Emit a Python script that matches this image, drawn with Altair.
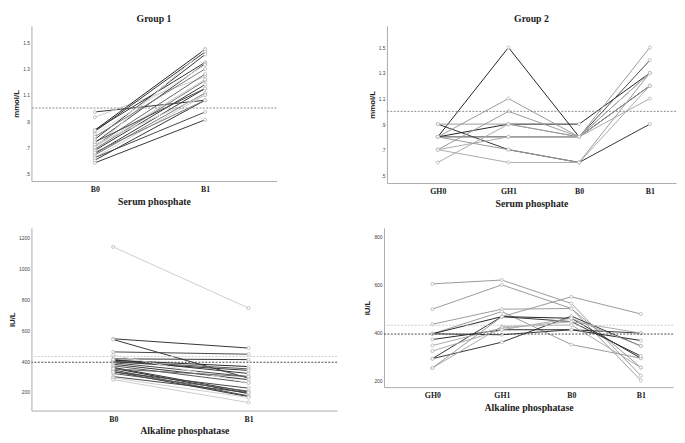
import altair as alt
import pandas as pd

# ---------------- data ----------------
# Group 1 - Serum phosphate (mmol/L)
g1p_times = ["B0", "B1"]
g1p_b0 = [0.97, 0.93, 0.83, 0.82, 0.83, 0.76, 0.735, 0.71, 0.70, 0.685, 0.675, 0.65,
          0.64, 0.62, 0.60, 0.58, 0.62, 0.72, 0.70, 0.66, 0.74, 0.80, 0.78]
g1p_b1 = [1.06, 1.24, 1.45, 1.43, 1.35, 1.41, 1.34, 1.26, 1.45, 1.21, 1.18, 1.15,
          1.115, 1.10, 1.06, 0.91, 0.97, 1.10, 1.22, 1.06, 1.15, 1.33, 1.30]
g1p_shade = ["#333", "#ccc", "#222", "#333", "#333", "#333", "#444", "#666", "#ccc", "#777", "#333", "#333",
             "#777", "#ccc", "#333", "#333", "#444", "#ccc", "#ccc", "#777", "#444", "#ddd", "#777"]

# Group 2 - Serum phosphate (mmol/L)
g2p_times = ["GH0", "GH1", "B0", "B1"]
g2p_gh0 = [0.8, 0.9, 0.8, 0.8, 0.8, 0.7, 0.6, 0.7, 0.9, 0.7, 0.8]
g2p_gh1 = [1.5, 0.7, 0.9, 0.8, 1.1, 1.0, 0.9, 0.6, 0.9, 0.8, 0.7]
g2p_b0 = [0.8, 0.6, 0.9, 0.8, 0.8, 0.8, 0.8, 0.6, 0.8, 0.8, 0.6]
g2p_b1 = [1.2, 0.9, 1.3, 1.4, 1.5, 1.3, 1.1, 1.2, 1.2, 1.3, 1.3]
g2p_shade = ["#222", "#333", "#222", "#444", "#999", "#999", "#aaa", "#aaa", "#999", "#aaa", "#999"]

# Group 1 - Alkaline phosphatase (IU/L)
g1a_times = ["B0", "B1"]
g1a_b0 = [1140, 545, 540, 460, 415, 406, 400, 396, 390, 380, 370, 360, 354, 343, 333,
          320, 300, 291, 280, 410, 440, 350, 330]
g1a_b1 = [744, 485, 290, 445, 410, 365, 350, 340, 300, 280, 260, 200, 190, 175, 170,
          206, 196, 165, 132, 320, 260, 300, 225]
g1a_shade = ["#ccc", "#333", "#333", "#444", "#333", "#222", "#555", "#333", "#444", "#333", "#555", "#333",
             "#222", "#444", "#333", "#555", "#444", "#ccc", "#ccc", "#333", "#ddd", "#666", "#444"]

# Group 2 - Alkaline phosphatase (IU/L)
g2a_times = ["GH0", "GH1", "B0", "B1"]
g2a_gh0 = [603, 497, 434, 394, 394, 290, 290, 370, 394, 251, 345, 322, 251]
g2a_gh1 = [619, 599, 497, 487, 466, 466, 359, 411, 390, 425, 418, 411, 466]
g2a_b0 = [521, 500, 500, 349, 459, 445, 468, 411, 411, 431, 445, 459, 549]
g2a_b1 = [219, 199, 253, 292, 292, 301, 343, 366, 397, 253, 397, 343, 477]
g2a_shade = ["#999", "#999", "#999", "#999", "#222", "#333", "#333", "#222", "#333", "#aaa", "#aaa", "#aaa", "#999"]

# reference lines
g1p_refs = [1.0]
g2p_refs = [1.0]
alp_refs = [430, 393]
alp_ref_colors = ["#ccc", "#444"]


def long_df(times, series, shades):
    rows = []
    for s in range(len(shades)):
        for t, name in enumerate(times):
            rows.append({"subject": s, "time": name, "t": t,
                         "value": series[t][s], "shade": shades[s]})
    return pd.DataFrame(rows)


SANS = "Liberation Sans"
SERIF = "Liberation Serif"


def panel(df, times, ydom, yticks, width, height, pad, align, xtitle, ytitle,
          refs, ref_colors, fmt, title=None):
    x = alt.X("time:N", sort=times,
              scale=alt.Scale(type="point", padding=pad, align=align),
              axis=alt.Axis(title=xtitle, labelAngle=0, labelFont=SERIF, labelFontWeight="bold",
                            labelFontSize=8, labelColor="#222", labelPadding=5,
                            titleFont=SERIF, titleFontWeight="bold", titleFontSize=10,
                            titleColor="#222", titlePadding=3, ticks=False,
                            domainColor="#aaa"))
    yscale = alt.Scale(domain=ydom, nice=False, zero=False)
    yaxis = alt.Axis(title=ytitle, values=yticks, labelExpr=fmt, labelFont=SANS,
                     labelFontSize=5, labelColor="#444", labelPadding=2, ticks=False,
                     labelOverlap=False, labelFlush=False,
                     titleFont=SANS, titleFontWeight="bold", titleFontSize=8,
                     titleColor="#222", titlePadding=2, domainColor="#aaa", grid=False)
    y = alt.Y("value:Q", scale=yscale, axis=yaxis)
    base = alt.Chart(df)
    lines = base.mark_line(strokeWidth=1).encode(
        x=x, y=y, color=alt.Color("shade:N", scale=None), detail="subject:N",
        order=alt.Order("t:Q"))
    pts = base.mark_point(shape="circle", filled=True, fill="white", stroke="#b5b5b5",
                          strokeWidth=0.8, size=10, opacity=1).encode(x=x, y=y)
    rdf = pd.DataFrame({"v": refs, "c": ref_colors})
    rules = alt.Chart(rdf).mark_rule(strokeDash=[2, 1.5], strokeWidth=1).encode(
        y=alt.Y("v:Q", scale=yscale, axis=yaxis), color=alt.Color("c:N", scale=None))
    ch = alt.layer(lines, pts, rules).properties(width=width, height=height)
    if title is not None:
        ch = ch.properties(title=alt.Title(title, font=SERIF, fontWeight="bold", fontSize=10,
                                           color="#222", offset=2))
    return ch


dec_fmt = "datum.value < 1 ? substring(format(datum.value, '.1f'), 1) : format(datum.value, '.1f')"
int_fmt = "format(datum.value, 'd')"

df1 = long_df(g1p_times, [g1p_b0, g1p_b1], g1p_shade)
df2 = long_df(g2p_times, [g2p_gh0, g2p_gh1, g2p_b0, g2p_b1], g2p_shade)
df3 = long_df(g1a_times, [g1a_b0, g1a_b1], g1a_shade)
df4 = long_df(g2a_times, [g2a_gh0, g2a_gh1, g2a_b0, g2a_b1], g2a_shade)

p1 = panel(df1, g1p_times, [0.441, 1.63], [0.5, 0.7, 0.9, 1.1, 1.3, 1.5], 251, 159, 0.61, 0.47,
           "Serum phosphate", "mmol/L", g1p_refs, ["#888"], dec_fmt, "Group 1")
p2 = panel(df2, g2p_times, [0.439, 1.67], [0.5, 0.7, 0.9, 1.1, 1.3, 1.5], 296, 161, 0.545, 0.66,
           "Serum phosphate", "mmol/L", g2p_refs, ["#888"], dec_fmt, "Group 2")
p3 = panel(df3, g1a_times, [80, 1263], [200, 400, 600, 800, 1000, 1200], 313, 187, 0.63, 0.48,
           "Alkaline phosphatase", "IU/L", alp_refs, alp_ref_colors, int_fmt)
p4 = panel(df4, g2a_times, [171, 837], [200, 400, 600, 800], 296, 163, 0.58, 0.6,
           "Alkaline phosphatase", "IU/L", alp_refs, alp_ref_colors, int_fmt)

row1 = alt.hconcat(p1, p2, spacing=92)
row2 = alt.hconcat(p3, p4, spacing=26)
chart = alt.vconcat(row1, row2, spacing=18).properties(
    padding={"left": 0, "top": 0, "right": 0, "bottom": 0}, background="white"
).configure_view(stroke="transparent").configure_axis(labelOverlap=False)

chart.save("out.html", embed_options={"renderer": "svg", "actions": False})
